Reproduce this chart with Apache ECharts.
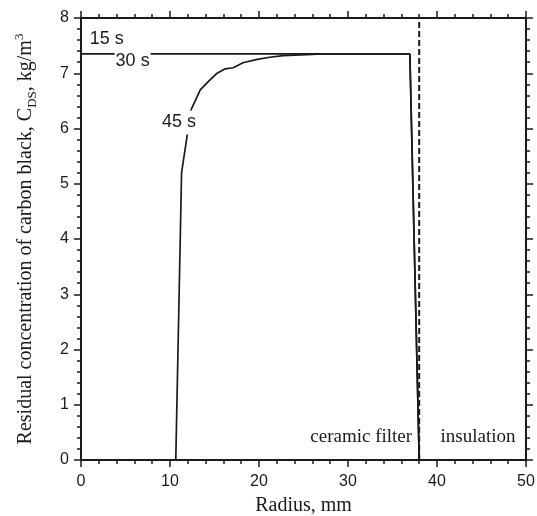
<!DOCTYPE html>
<html>
<head>
<meta charset="utf-8">
<script src="https://cdn.jsdelivr.net/npm/echarts@6/dist/echarts.min.js"></script>
<style>
  html, body { margin: 0; padding: 0; background: #fff; }
  #chart { width: 537px; height: 516px; }
</style>
</head>
<body>
<div id="chart"></div>
<script>
// top level data
const flatLine = [[0, 7.35], [36.95, 7.35], [38, 0]] // 15 s and 30 s coincide
const curve45 = [
  [10.65, 0], [11.3, 5.2], [12.0, 5.95], [12.4, 6.35], [13.4, 6.7], [14.3, 6.85],
  [15.2, 6.99], [16.2, 7.08], [17.1, 7.1], [18.2, 7.19], [19.8, 7.25], [21.2, 7.29],
  [22.7, 7.32], [26, 7.34], [27, 7.35], [36.95, 7.35], [38, 0]
]
const boundary = [[38, 0], [38, 8]]
const timeLabels = [
  { text: '15 s', at: [2.9, 7.62], bg: 'transparent' },
  { text: '30 s', at: [5.8, 7.23], bg: '#fff' },
  { text: '45 s', at: [11.0, 6.11], bg: '#fff' }
]
const zoneLabels = [
  { text: 'ceramic filter', at: [37.2, 0.42], align: 'right' },
  { text: 'insulation', at: [40.4, 0.42], align: 'left' }
]

const ink = '#1a1a1a'
const serif = 'Liberation Serif'
const sans = 'Liberation Sans'

const chart = echarts.init(document.getElementById('chart'))

function axisBase(show) {
  return {
    min: 0,
    axisLine: { show: true, onZero: false, lineStyle: { color: ink, width: 2 } },
    axisTick: { show: true, inside: false, length: 7, lineStyle: { color: ink, width: 1.5 } },
    minorTick: { show: true, splitNumber: 5, length: 4, lineStyle: { color: ink, width: 1.5 } },
    splitLine: { show: false },
    axisLabel: { show: show, color: ink, fontFamily: sans, fontSize: 16 }
  }
}

const xBottom = Object.assign(axisBase(true), {
  type: 'value', position: 'bottom', max: 50, interval: 10,
  name: 'Radius, mm', nameLocation: 'middle', nameGap: 36,
  nameTextStyle: { fontFamily: serif, fontSize: 20, color: ink }
})
xBottom.axisLabel.margin = 14
const xTop = Object.assign(axisBase(false), { type: 'value', position: 'top', max: 50, interval: 10 })
const yLeft = Object.assign(axisBase(true), {
  type: 'value', position: 'left', max: 8, interval: 1,
  name: '{n|Residual concentration of carbon black, C}{sub|DS}{n|, kg/m}{sup|3}',
  nameLocation: 'middle', nameRotate: 90, nameGap: 42,
  nameTextStyle: {
    fontFamily: serif, fontSize: 20, color: ink,
    rich: {
      n: { fontFamily: serif, fontSize: 20, color: ink, lineHeight: 26 },
      sub: { fontFamily: serif, fontSize: 13, color: ink, lineHeight: 13, verticalAlign: 'bottom' },
      sup: { fontFamily: serif, fontSize: 13, color: ink, lineHeight: 13, verticalAlign: 'top' }
    }
  }
})
yLeft.axisLabel.margin = 12
const yRight = Object.assign(axisBase(false), { type: 'value', position: 'right', max: 8, interval: 1 })

function textPoints(list, style) {
  return list.map(d => ({
    coord: d.at,
    symbol: 'circle',
    symbolSize: 1,
    itemStyle: { color: 'rgba(0,0,0,0)' },
    label: Object.assign({
      show: true,
      position: 'inside',
      formatter: d.text,
      align: d.align || 'center',
      backgroundColor: d.bg || 'transparent'
    }, style)
  }))
}

chart.setOption({
  animation: false,
  grid: { left: 81, right: 11, top: 18, bottom: 56, containLabel: false, outerBoundsMode: 'none' },
  xAxis: [xBottom, xTop],
  yAxis: [yLeft, yRight],
  series: [
    {
      name: '15 s / 30 s',
      type: 'line',
      data: flatLine,
      showSymbol: false,
      lineStyle: { color: ink, width: 1.7 },
      z: 2
    },
    {
      name: '45 s',
      type: 'line',
      data: curve45,
      showSymbol: false,
      lineStyle: { color: ink, width: 1.7 },
      z: 2,
      markPoint: {
        z: 5,
        data: textPoints(timeLabels, {
          color: ink, fontFamily: sans, fontSize: 18, padding: [3, 1, 3, 1]
        })
      }
    },
    {
      name: 'boundary',
      type: 'line',
      data: boundary,
      showSymbol: false,
      lineStyle: { color: ink, width: 2, type: [6, 3] },
      z: 3,
      markPoint: {
        data: textPoints(zoneLabels, { color: ink, fontFamily: serif, fontSize: 19 })
      }
    }
  ]
})
</script>
</body>
</html>
